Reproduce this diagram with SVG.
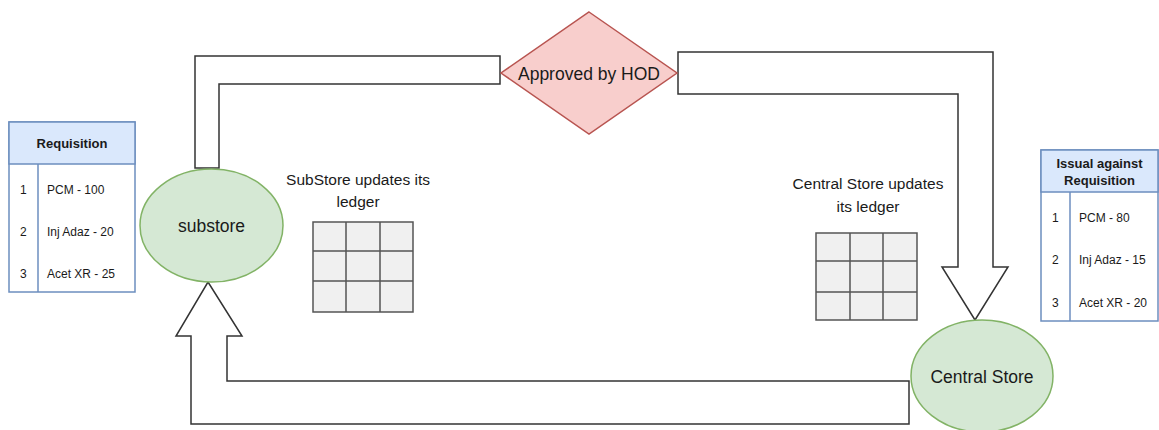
<svg xmlns="http://www.w3.org/2000/svg" width="1159" height="430" viewBox="0 0 1159 430">
  <style>
    text { font-family: "Liberation Sans", Arial, sans-serif; fill: #1a1a1a; }
    .flow { fill: #ffffff; stroke: #333333; stroke-width: 1.5; stroke-linejoin: miter; }
    .store { fill: #d5e8d4; stroke: #82b366; stroke-width: 1.5; }
    .decision { fill: #f8cecc; stroke: #b85450; stroke-width: 1.5; }
    .tbl { fill: #ffffff; stroke: #6c8ebf; stroke-width: 1.5; }
    .tblhead { fill: #dae8fc; stroke: #6c8ebf; stroke-width: 1.5; }
    .tblline { stroke: #6c8ebf; stroke-width: 1.5; fill: none; }
    .grid { fill: #f0f0f0; stroke: #555555; stroke-width: 1.5; }
    .gridline { stroke: #555555; stroke-width: 1.5; fill: none; }
    .node { font-size: 17.5px; text-anchor: middle; }
    .note { font-size: 15.5px; text-anchor: middle; }
    .th { font-size: 13px; font-weight: bold; text-anchor: middle; }
    .td { font-size: 12px; }
  </style>

  <rect width="1159" height="430" fill="#ffffff"/>

  <!-- connectors: wide block arrows -->
  <g id="connectors">
    <!-- substore up to the approval step -->
    <polygon class="flow" points="195,168 195,56 500,56 500,84 219,84 219,168"/>
    <!-- approval down to the central store -->
    <polygon class="flow" points="678,52 993,52 993,267 1008,267 975,320 942,267 958,267 958,94 678,94"/>
    <!-- central store back to the substore -->
    <polygon class="flow" points="909,381 227,381 227,336 242,336 208,282 176,336 191,336 191,424 909,424"/>
  </g>

  <!-- requisition table -->
  <g id="requisition">
    <rect class="tbl" x="9" y="122" width="126" height="170"/>
    <rect class="tblhead" x="9" y="122" width="126" height="42"/>
    <line class="tblline" x1="38" y1="164" x2="38" y2="292"/>
    <text class="th" x="72" y="148">Requisition</text>
    <text class="td" x="20" y="194">1</text>
    <text class="td" x="47" y="194">PCM - 100</text>
    <text class="td" x="20" y="236">2</text>
    <text class="td" x="47" y="236">Inj Adaz - 20</text>
    <text class="td" x="20" y="278">3</text>
    <text class="td" x="47" y="278">Acet XR - 25</text>
  </g>

  <!-- substore -->
  <g id="substore">
    <ellipse class="store" cx="211.5" cy="225.5" rx="71.5" ry="56.5"/>
    <text class="node" x="211.5" y="232">substore</text>
  </g>

  <!-- substore ledger -->
  <g id="substore-ledger">
    <text class="note" x="358" y="185">SubStore updates its</text>
    <text class="note" x="358" y="207">ledger</text>
    <rect class="grid" x="313" y="222" width="100" height="90"/>
    <line class="gridline" x1="346" y1="222" x2="346" y2="312"/>
    <line class="gridline" x1="380" y1="222" x2="380" y2="312"/>
    <line class="gridline" x1="313" y1="251" x2="413" y2="251"/>
    <line class="gridline" x1="313" y1="281" x2="413" y2="281"/>
  </g>

  <!-- approval step -->
  <g id="approved-by-hod">
    <polygon class="decision" points="589,12 677,73 589,134 501,73"/>
    <text class="node" x="589" y="80">Approved by HOD</text>
  </g>

  <!-- central store ledger -->
  <g id="central-ledger">
    <text class="note" x="868" y="189">Central Store updates</text>
    <text class="note" x="868" y="212">its ledger</text>
    <rect class="grid" x="816" y="233" width="101" height="87"/>
    <line class="gridline" x1="850" y1="233" x2="850" y2="320"/>
    <line class="gridline" x1="883" y1="233" x2="883" y2="320"/>
    <line class="gridline" x1="816" y1="261" x2="917" y2="261"/>
    <line class="gridline" x1="816" y1="292" x2="917" y2="292"/>
  </g>

  <!-- central store -->
  <g id="central-store">
    <ellipse class="store" cx="982" cy="376" rx="71" ry="56"/>
    <text class="node" x="982" y="383">Central Store</text>
  </g>

  <!-- issual table -->
  <g id="issual">
    <rect class="tbl" x="1041" y="150" width="117" height="171"/>
    <rect class="tblhead" x="1041" y="150" width="117" height="42"/>
    <line class="tblline" x1="1070" y1="192" x2="1070" y2="321"/>
    <text class="th" x="1099.5" y="168">Issual against</text>
    <text class="th" x="1099.5" y="185">Requisition</text>
    <text class="td" x="1052" y="222">1</text>
    <text class="td" x="1079" y="222">PCM - 80</text>
    <text class="td" x="1052" y="264">2</text>
    <text class="td" x="1079" y="264">Inj Adaz - 15</text>
    <text class="td" x="1052" y="307">3</text>
    <text class="td" x="1079" y="307">Acet XR - 20</text>
  </g>
</svg>
